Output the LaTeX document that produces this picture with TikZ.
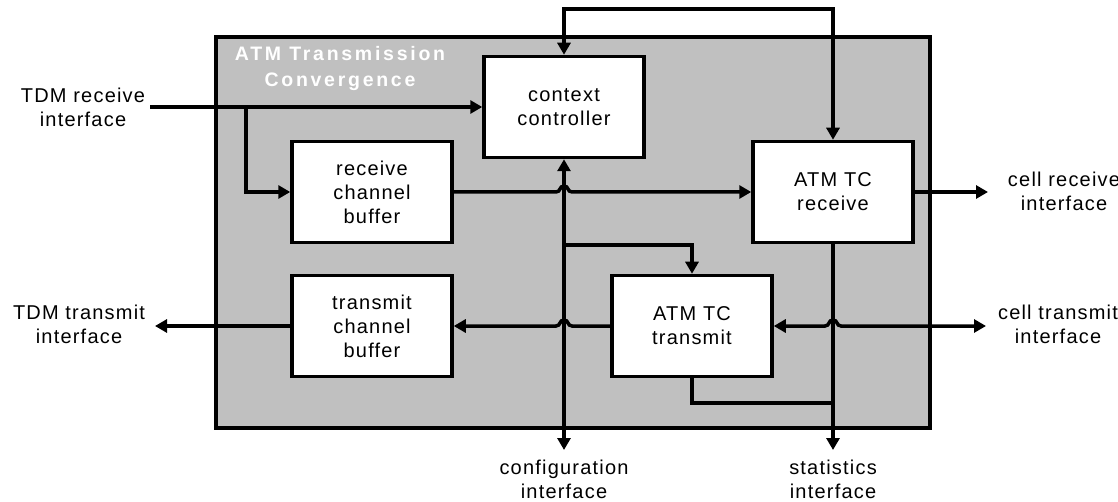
\documentclass[tikz,border=0pt]{standalone}
\usepackage{fontspec}
\setmainfont{Liberation Sans}[LetterSpace=6]
\newfontfamily\titlefont{Liberation Sans}[LetterSpace=14]
\usetikzlibrary{arrows.meta}
\definecolor{panelgray}{HTML}{C0C0C0}
\begin{document}
\begin{tikzpicture}[x=1pt,y=-1pt,line width=3.5pt,
  tip/.tip={Triangle[length=12pt,width=13pt]},
  arr/.style={-tip},
  biarr/.style={tip-tip},
  txt/.style={font=\fontsize{20}{24}\selectfont},
  blk/.style={draw,fill=white,minimum width=160pt,minimum height=101pt,
    align=center,inner sep=0pt,txt},
  lbl/.style={align=center,inner sep=0pt,txt},
  panel/.style={draw,fill=panelgray,minimum width=714pt,minimum height=391pt,inner sep=0pt},
  title/.style={align=center,inner sep=0pt,text=white,
    font=\titlefont\bfseries\fontsize{19.5}{26}\selectfont}]
\useasboundingbox (0,0) rectangle (1118,502);

% enclosing block
\node[panel] (tc) at (573,232.5) {};
\node[title] (tctitle) at (340,68.5) {ATM Transmission\\Convergence};

% functional blocks
\node[blk] (ctx) at (564,107) {context\\controller};
\node[blk] (rcb) at (372,192) {receive\\channel\\buffer};
\node[blk] (atr) at (833,192) {ATM TC\\receive};
\node[blk] (tcb) at (372,326) {transmit\\channel\\buffer};
\node[blk] (att) at (692,326) {ATM TC\\transmit};

% external interface labels
\node[lbl] (tdmrx) at (83,107) {TDM receive\\interface};
\node[lbl] (tdmtx) at (79,324) {TDM transmit\\interface};
\node[lbl] (cellrx) at (1064,191) {cell receive\\interface};
\node[lbl] (celltx) at (1058,324) {cell transmit\\interface};
\node[lbl] (cfg) at (564,479) {configuration\\interface};
\node[lbl] (stat) at (833,479) {statistics\\interface};

% connector end points and junctions
\coordinate (tdmrxend) at (150,107);
\coordinate (rxsplit) at (246,107);
\coordinate (tdmtxend) at (155,326);
\coordinate (cellrxend) at (988,192);
\coordinate (celltxend) at (986,326);
\coordinate (cfgend) at (564,450);
\coordinate (statend) at (833,450);
\coordinate (cfgsplit) at (564,245);
\coordinate (toprail) at (564,9);
\coordinate (statjoin) at (833,403);

% TDM receive path
\draw[arr] (tdmrxend) -- (ctx.west);
\draw[arr] (rxsplit) |- (rcb.west);

% receive data path with a hop over the configuration bus
\draw[arr] (rcb.east) -- (556,192)
  .. controls (561,192) and (559,186) .. (564,186)
  .. controls (569,186) and (567,192) .. (572,192) -- (atr.west);
\draw[arr] (atr.east) -- (cellrxend);

% control link between context controller and ATM TC receive
\draw[biarr] (ctx.north) -- (toprail) -| (atr.north);

% configuration bus
\draw[biarr] (ctx.south) -- (cfgend);
\draw[arr] (cfgsplit) -| (att.north);

% statistics bus
\draw[arr] (atr.south) -- (statend);
\draw (att.south) |- (statjoin);

% transmit data path
\draw[arr] (att.west) -- (572,326)
  .. controls (567,326) and (569,320) .. (564,320)
  .. controls (559,320) and (561,326) .. (556,326) -- (tcb.east);
\draw[arr] (tcb.west) -- (tdmtxend);
\draw[biarr] (att.east) -- (825,326)
  .. controls (830,326) and (828,320) .. (833,320)
  .. controls (838,320) and (836,326) .. (841,326) -- (celltxend);
\end{tikzpicture}
\end{document}
